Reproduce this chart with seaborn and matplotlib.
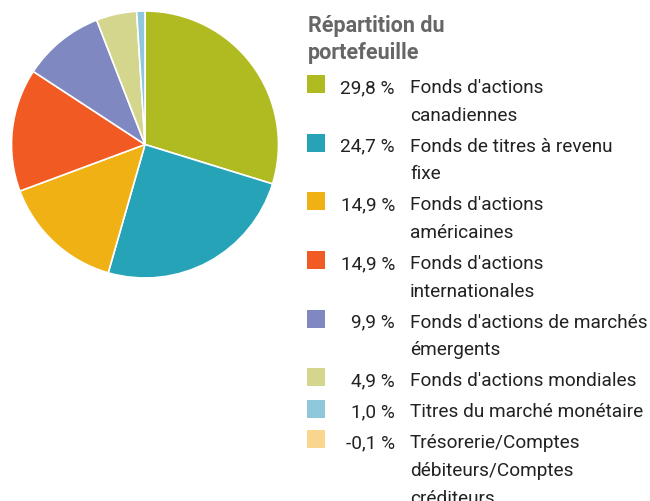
import matplotlib
matplotlib.use("Agg")
import matplotlib.pyplot as plt
import seaborn as sns
from matplotlib.patches import Rectangle

# ---- data ----
labels = [
    "Fonds d'actions\ncanadiennes",
    "Fonds de titres à revenu\nfixe",
    "Fonds d'actions\naméricaines",
    "Fonds d'actions\ninternationales",
    "Fonds d'actions de marchés\némergents",
    "Fonds d'actions mondiales",
    "Titres du marché monétaire",
    "Trésorerie/Comptes\ndébiteurs/Comptes\ncréditeurs",
]
values = [29.8, 24.7, 14.9, 14.9, 9.9, 4.9, 1.0, -0.1]
value_labels = ["29,8 %", "24,7 %", "14,9 %", "14,9 %", "9,9 %", "4,9 %", "1,0 %", "-0,1 %"]
colors = ["#B0BB21", "#27A3B8", "#F0B114", "#F15A22", "#8088C2", "#D3D68C", "#8FC8DA", "#F9D58D"]
title = "Répartition du\nportefeuille"

sns.set_theme(style="white")
plt.rcParams["font.family"] = ["Roboto", "DejaVu Sans"]

W, H = 650, 502
fig = plt.figure(figsize=(W / 100, H / 100), dpi=100)

def fx(px):
    return px / W

def fy(py):
    return 1 - py / H

# pie
cx, cy, r = 145, 145.5, 133.5
ax = fig.add_axes([fx(cx - r), fy(cy + r), fx(2 * r), (2 * r) / H])
pos_vals = [v for v in values if v > 0]
pos_cols = [c for v, c in zip(values, colors) if v > 0]
ax.pie(pos_vals, colors=pos_cols, startangle=90, counterclock=False,
       wedgeprops=dict(edgecolor="white", linewidth=1.2))
ax.set_xlim(-1.0, 1.0)
ax.set_ylim(-1.0, 1.0)
ax.set_aspect("equal")
ax.axis("off")

# legend
fs = 13.7
for i, t in enumerate(title.split("\n")):
    fig.text(fx(308), fy(32 + i * 27.5), t, ha="left", va="baseline", fontsize=15.5,
             fontweight="bold", color="#666666")

line_h = 27.7
gap = 3.3
y = 93
for lab, vl, col in zip(labels, value_labels, colors):
    fig.patches.append(Rectangle((fx(307), fy(y + 1)), fx(18), 18 / H, transform=fig.transFigure,
                                 facecolor=col, edgecolor="none"))
    fig.text(fx(395), fy(y), vl, ha="right", va="baseline", fontsize=fs, color="#222222")
    parts = lab.split("\n")
    for j, p in enumerate(parts):
        fig.text(fx(410), fy(y + j * line_h), p, ha="left", va="baseline", fontsize=fs,
                 color="#222222")
    y += len(parts) * line_h + gap

fig.savefig("out.png", dpi=100)
